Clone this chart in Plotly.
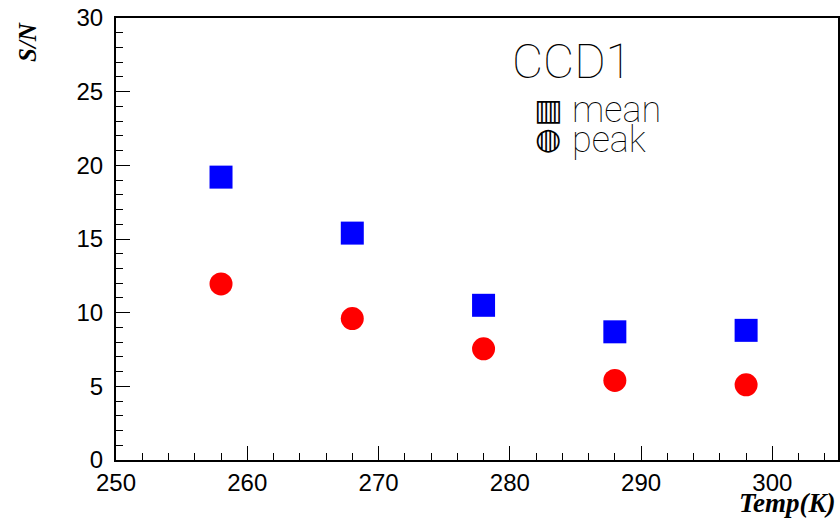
import plotly.graph_objects as go

temps = [258, 268, 278, 288, 298]
sn_mean = [19.2, 15.4, 10.5, 8.7, 8.8]
sn_peak = [11.95, 9.6, 7.55, 5.4, 5.1]

W, H = 840, 518
ml, mr, mt, mb = 116, 2, 18, 58

fig = go.Figure()
fig.add_trace(go.Scatter(x=temps, y=sn_mean, mode="markers",
                         marker=dict(symbol="square", size=23, color="#0000FF"),
                         name="mean", showlegend=False, cliponaxis=False))
fig.add_trace(go.Scatter(x=temps, y=sn_peak, mode="markers",
                         marker=dict(symbol="circle", size=23, color="#FF0000"),
                         name="peak", showlegend=False, cliponaxis=False))

tickfont = dict(family="Liberation Sans, Arial", size=24, color="black")
fig.update_xaxes(range=[250, 305], dtick=10, tick0=250, ticks="inside", ticklen=14,
                 tickwidth=1, tickcolor="black", showgrid=False, zeroline=False,
                 showline=True, linewidth=2, linecolor="black", mirror=True,
                 tickfont=tickfont, automargin=False,
                 minor=dict(ticks="inside", ticklen=7, dtick=2, tickcolor="black", tickwidth=1))
fig.update_yaxes(range=[0, 30], dtick=5, tick0=0, ticks="inside", ticklen=14,
                 tickwidth=1, tickcolor="black", showgrid=False, zeroline=False,
                 showline=True, linewidth=2, linecolor="black", mirror=True,
                 tickfont=tickfont, ticklabelstandoff=6, automargin=False,
                 minor=dict(ticks="inside", ticklen=7, dtick=1, tickcolor="black", tickwidth=1))

def px(x):
    return (x - ml) / (W - ml - mr)

def py(y):
    return (H - mb - y) / (H - mt - mb)

ann = []
ann.append(dict(text="<b><i>S/N</i></b>", x=px(27), y=py(20), xref="paper", yref="paper",
                xanchor="center", yanchor="top", textangle=-90, showarrow=False,
                font=dict(family="Liberation Serif, Times New Roman", size=25, color="black")))
ann.append(dict(text="<b><i>Temp(K)</i></b>", x=px(838), y=py(503), xref="paper", yref="paper",
                xanchor="right", yanchor="middle", showarrow=False,
                font=dict(family="Liberation Serif, Times New Roman", size=27, color="black")))
ann.append(dict(text="CCD1", x=px(510), y=py(62), xref="paper", yref="paper",
                xanchor="left", yanchor="middle", showarrow=False,
                font=dict(family="Roboto", size=48, color="black", weight=100)))
ann.append(dict(text="mean", x=px(570), y=py(110), xref="paper", yref="paper",
                xanchor="left", yanchor="middle", showarrow=False,
                font=dict(family="Roboto", size=36, color="black", weight=100)))
ann.append(dict(text="peak", x=px(570), y=py(140), xref="paper", yref="paper",
                xanchor="left", yanchor="middle", showarrow=False,
                font=dict(family="Roboto", size=36, color="black", weight=100)))
ann.append(dict(text="\u25A5", x=px(548), y=py(109), xref="paper", yref="paper",
                xanchor="center", yanchor="middle", showarrow=False,
                font=dict(family="DejaVu Sans", size=30, color="black")))
ann.append(dict(text="\u25CD", x=px(548), y=py(138), xref="paper", yref="paper",
                xanchor="center", yanchor="middle", showarrow=False,
                font=dict(family="DejaVu Sans", size=30, color="black")))

fig.update_layout(width=W, height=H, margin=dict(l=ml, r=mr, t=mt, b=mb, autoexpand=False),
                  plot_bgcolor="white", paper_bgcolor="white", annotations=ann)

fig.write_html("out.html", config={"displayModeBar": False},
               post_script="document.body.style.margin='0';document.body.style.overflow='hidden';")
